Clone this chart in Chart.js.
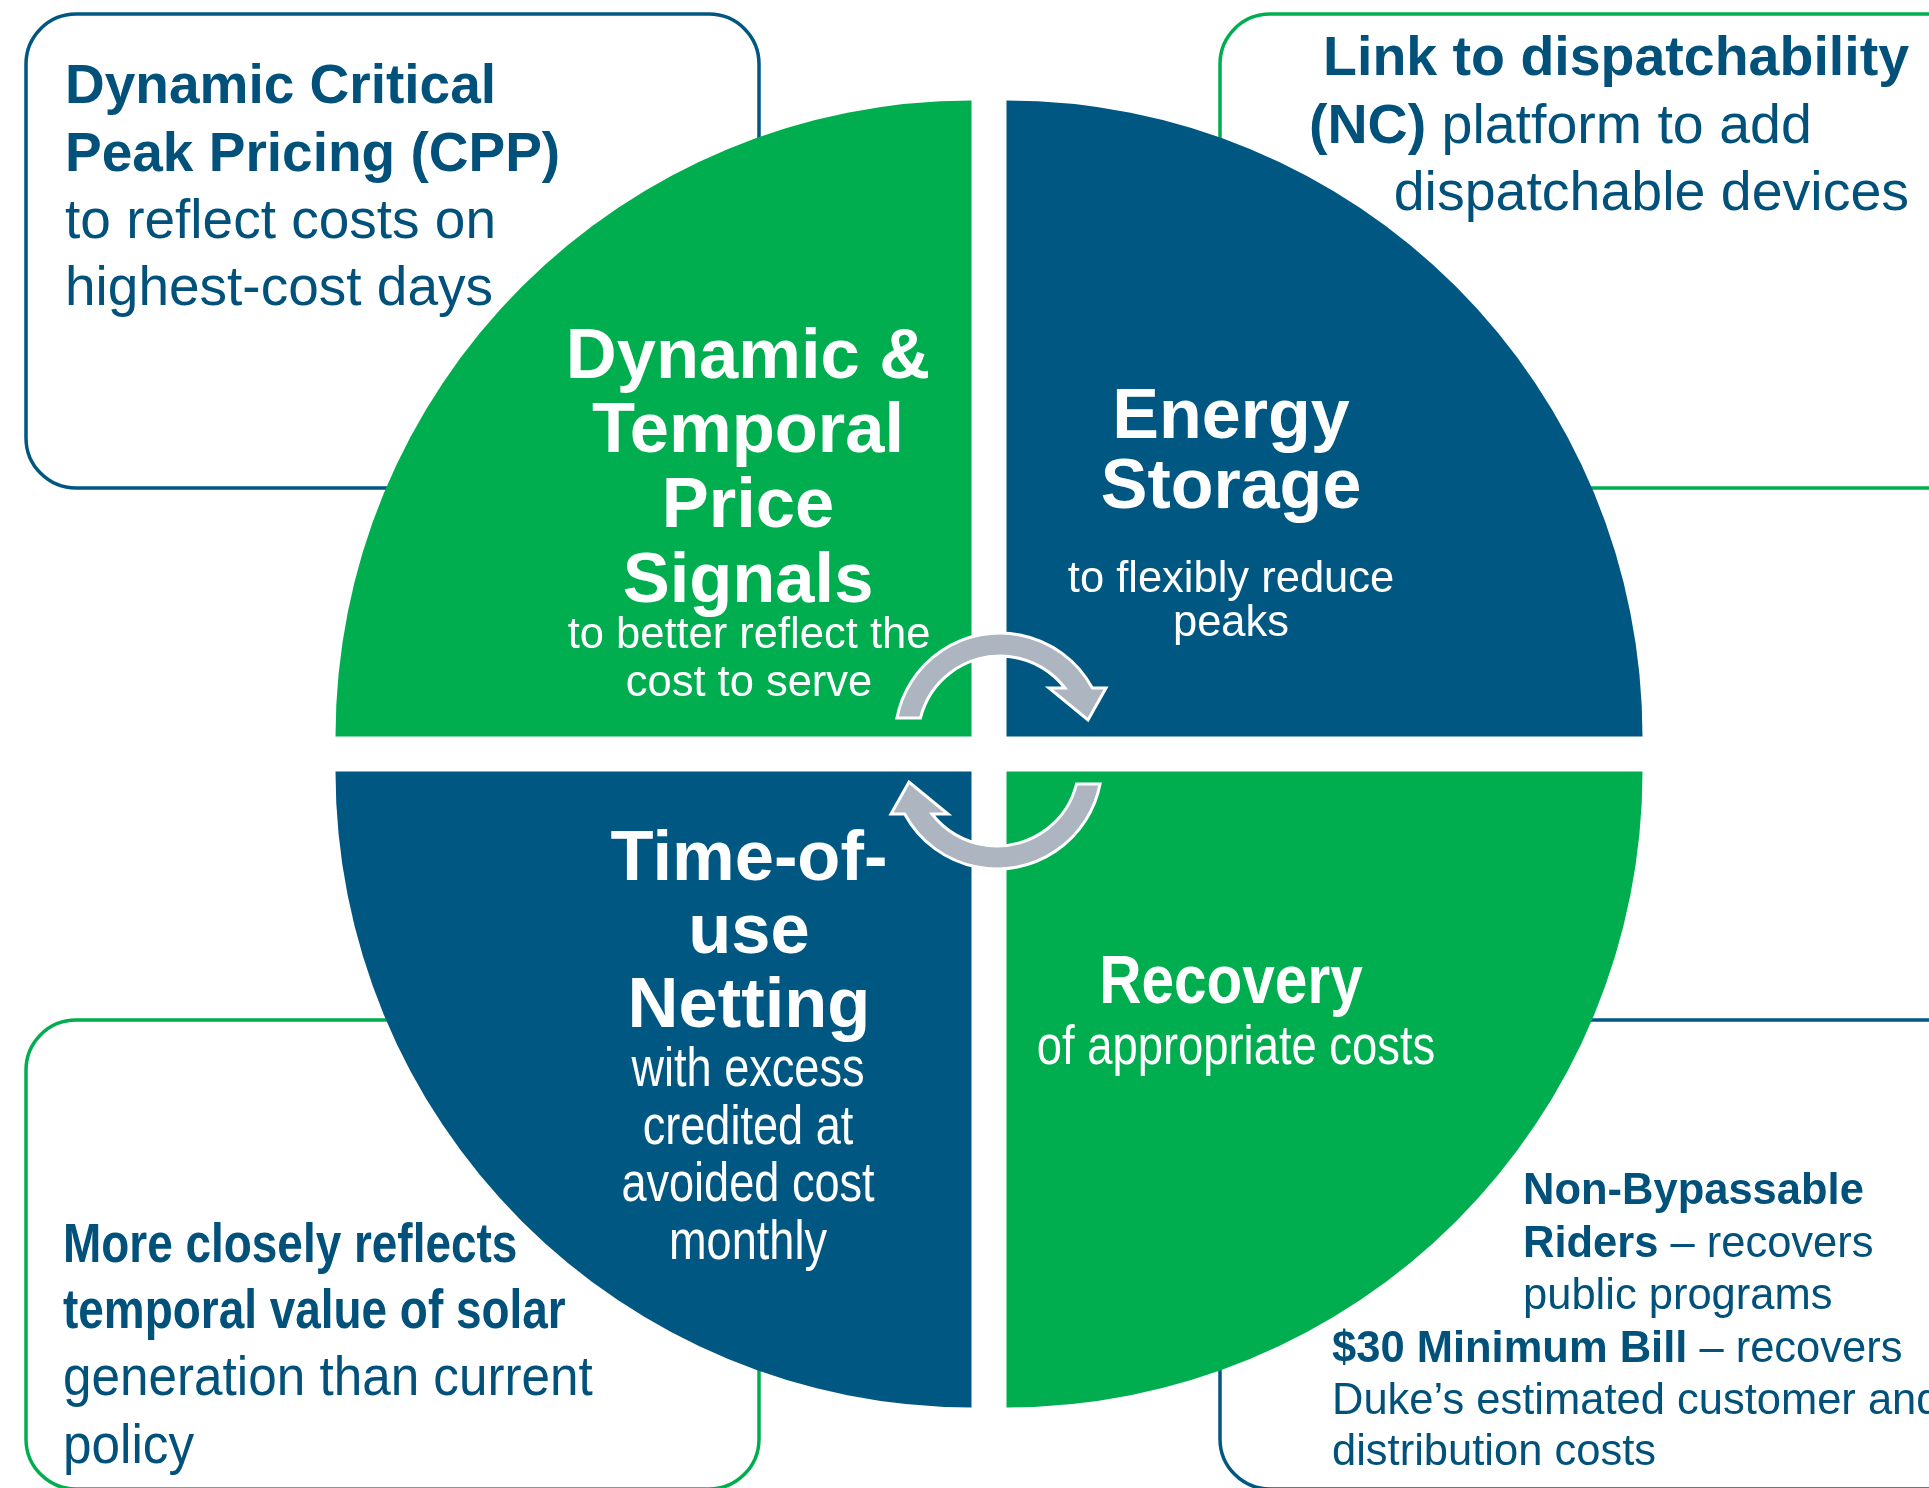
<!DOCTYPE html>
<html>
<head>
<meta charset="utf-8">
<script src="https://cdn.jsdelivr.net/npm/chart.js@4.4.1/dist/chart.umd.min.js"></script>
<style>
html,body{margin:0;padding:0;background:#ffffff;overflow:hidden}
#wrap{position:relative;width:1929px;height:1488px}
</style>
</head>
<body>
<div id="wrap"><canvas id="c"></canvas></div>
<script>
// ---------------- data ----------------
const quadrantLabels = ['Energy Storage', 'Recovery', 'Time-of-use Netting', 'Dynamic & Temporal Price Signals'];
const quadrantValues = [1, 1, 1, 1];

const titleTR = ['Energy', 'Storage'];
const subTR = ['to flexibly reduce', 'peaks'];
const titleBR = ['Recovery'];
const subBR = ['of appropriate costs'];
const titleBL = ['Time-of-', 'use', 'Netting'];
const subBL = ['with excess', 'credited at', 'avoided cost', 'monthly'];
const titleTL = ['Dynamic &', 'Temporal', 'Price', 'Signals'];
const subTL = ['to better reflect the', 'cost to serve'];

const noteTL = [
  [{t: 'Dynamic Critical', b: 1}],
  [{t: 'Peak Pricing (CPP)', b: 1}],
  [{t: 'to reflect costs on'}],
  [{t: 'highest-cost days'}]
];
const noteTR = [
  [{t: 'Link to dispatchability', b: 1}],
  [{t: '(NC)', b: 1}, {t: ' platform to add'}],
  [{t: 'dispatchable devices'}]
];
const noteBL = [
  [{t: 'More closely reflects', b: 1}],
  [{t: 'temporal value of solar', b: 1}],
  [{t: 'generation than current'}],
  [{t: 'policy'}]
];
const noteBR = [
  [{t: 'Non-Bypassable', b: 1}],
  [{t: 'Riders', b: 1}, {t: ' \u2013 recovers'}],
  [{t: 'public programs'}],
  [{t: '$30 Minimum Bill', b: 1}, {t: ' \u2013 recovers'}],
  [{t: 'Duke\u2019s estimated customer and'}],
  [{t: 'distribution costs'}]
];

// ---------------- styles / layout ----------------
const NAVY = '#005882';
const GREEN = '#00ae4f';
const TXT = '#01517a';
const ARROW = '#adb5c1';
const FONT = '"Liberation Sans", Arial, Helvetica, sans-serif';

function drawRuns(ctx, x, y, parts, size, color, align, sx) {
  ctx.save();
  ctx.fillStyle = color;
  ctx.textBaseline = 'alphabetic';
  ctx.textAlign = 'left';
  let w = 0;
  const ws = [];
  for (const p of parts) {
    ctx.font = (p.b ? 'bold ' : '') + size + 'px ' + FONT;
    const m = ctx.measureText(p.t).width;
    ws.push(m); w += m;
  }
  ctx.translate(x, y);
  ctx.scale(sx || 1, 1);
  let cx = align === 'center' ? -w / 2 : (align === 'right' ? -w : 0);
  parts.forEach((p, i) => {
    ctx.font = (p.b ? 'bold ' : '') + size + 'px ' + FONT;
    ctx.fillText(p.t, cx, 0);
    cx += ws[i];
  });
  ctx.restore();
}

function lines(ctx, arr, x, ys, size, bold, color, align, sx) {
  arr.forEach((t, i) => drawRuns(ctx, x, ys[i], [{t: t, b: bold}], size, color, align, sx));
}

function roundBox(ctx, x, y, w, h, r, color) {
  ctx.save();
  ctx.beginPath();
  ctx.moveTo(x + r, y);
  ctx.lineTo(x + w - r, y);
  ctx.arcTo(x + w, y, x + w, y + r, r);
  ctx.lineTo(x + w, y + h - r);
  ctx.arcTo(x + w, y + h, x + w - r, y + h, r);
  ctx.lineTo(x + r, y + h);
  ctx.arcTo(x, y + h, x, y + h - r, r);
  ctx.lineTo(x, y + r);
  ctx.arcTo(x, y, x + r, y, r);
  ctx.closePath();
  ctx.lineWidth = 3.5;
  ctx.strokeStyle = color;
  ctx.stroke();
  ctx.restore();
}

function curvedArrow(ctx, rot) {
  const cx = 1000, cy = 738, ro = 105, ri = 82, yCut = 718, yHead = 688;
  ctx.save();
  if (rot) { ctx.translate(998.5, 751); ctx.rotate(Math.PI); ctx.translate(-998.5, -751); }
  const a0o = -Math.PI - Math.asin((yCut - cy) / ro);
  const a0i = -Math.PI - Math.asin((yCut - cy) / ri);
  const a1o = -Math.asin((cy - yHead) / ro);
  const a1i = -Math.asin((cy - yHead) / ri);
  ctx.beginPath();
  ctx.moveTo(cx + ro * Math.cos(a0o), cy + ro * Math.sin(a0o));
  ctx.arc(cx, cy, ro, a0o, a1o, false);
  ctx.lineTo(1106, yHead);
  ctx.lineTo(1088, 720);
  ctx.lineTo(1049, yHead);
  ctx.lineTo(cx + ri * Math.cos(a1i), cy + ri * Math.sin(a1i));
  ctx.arc(cx, cy, ri, a1i, a0i, true);
  ctx.closePath();
  ctx.fillStyle = ARROW;
  ctx.fill();
  ctx.lineWidth = 3;
  ctx.lineJoin = 'miter';
  ctx.strokeStyle = '#ffffff';
  ctx.stroke();
  ctx.restore();
}

const boxesPlugin = {
  id: 'boxes',
  beforeDatasetsDraw(chart) {
    const ctx = chart.ctx;
    roundBox(ctx, 26, 14, 733, 474, 50, NAVY);
    roundBox(ctx, 1220, 14, 800, 474, 50, GREEN);
    roundBox(ctx, 26, 1020, 733, 469, 50, GREEN);
    roundBox(ctx, 1220, 1020, 800, 469, 50, NAVY);
  }
};

const overlayPlugin = {
  id: 'overlay',
  afterDatasetsDraw(chart) {
    const ctx = chart.ctx;
    // quadrant texts
    lines(ctx, titleTL, 748, [378, 452, 527, 602], 70.5, true, '#fff', 'center', 1);
    lines(ctx, subTL, 749, [648, 696], 43.5, false, '#fff', 'center', 1);
    lines(ctx, titleTR, 1231, [438, 508], 70, true, '#fff', 'center', 1);
    lines(ctx, subTR, 1231, [592, 636], 43.5, false, '#fff', 'center', 1);
    lines(ctx, titleBR, 1231, [1003], 68, true, '#fff', 'center', 0.86);
    lines(ctx, subBR, 1236, [1064], 55, false, '#fff', 'center', 0.825);
    lines(ctx, titleBL, 749, [880, 953, 1027], 70.5, true, '#fff', 'center', 1);
    lines(ctx, subBL, 748, [1086, 1144, 1201, 1259], 55, false, '#fff', 'center', 0.82);

    // corner notes
    const ysTL = [103, 171, 238, 305];
    noteTL.forEach((r, i) => drawRuns(ctx, 65, ysTL[i], r, 55, TXT, 'left', 1));
    drawRuns(ctx, 1909, 75, noteTR[0], 55.5, TXT, 'right', 1);
    drawRuns(ctx, 1309, 143, noteTR[1], 55.5, TXT, 'left', 1);
    drawRuns(ctx, 1909, 210, noteTR[2], 55.5, TXT, 'right', 1);
    const ysBL = [1262, 1328, 1395, 1463];
    noteBL.forEach((r, i) => drawRuns(ctx, 63, ysBL[i], r, 56, TXT, 'left', r[0].b ? 0.82 : 0.915));
    const ysBR = [1204, 1257, 1309, 1362, 1414, 1465];
    const xsBR = [1523, 1523, 1523, 1332, 1332, 1332];
    noteBR.forEach((r, i) => drawRuns(ctx, xsBR[i], ysBR[i], r, 43.5, TXT, 'left', 1));

    // cycle arrows
    curvedArrow(ctx, false);
    curvedArrow(ctx, true);
  }
};

new Chart(document.getElementById('c'), {
  type: 'pie',
  data: {
    labels: quadrantLabels,
    datasets: [{
      data: quadrantValues,
      backgroundColor: [NAVY, GREEN, NAVY, GREEN],
      borderWidth: 0,
      offset: 99,
      hoverOffset: 0
    }]
  },
  options: {
    responsive: true,
    maintainAspectRatio: false,
    animation: false,
    events: [],
    radius: 636,
    layout: {padding: {left: 49, top: 20, right: 0, bottom: 0}},
    plugins: {legend: {display: false}, tooltip: {enabled: false}}
  },
  plugins: [boxesPlugin, overlayPlugin]
});
</script>
</body>
</html>
